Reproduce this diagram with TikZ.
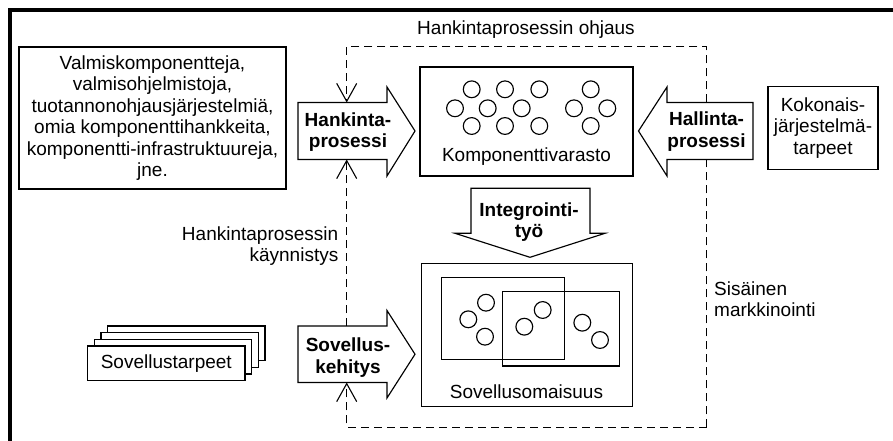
\documentclass[tikz,border=0pt]{standalone}
\usepackage{fontspec}
\setmainfont{Liberation Sans}
\usetikzlibrary{arrows.meta}
\pgfdeclarelayer{back}
\pgfdeclarelayer{lines}
\pgfsetlayers{back,lines,main}
\begin{document}
\begin{tikzpicture}[x=1pt,y=-1pt,
  txt/.style={font=\fontsize{19}{21.5}\selectfont, align=center, inner sep=0pt},
  btxt/.style={txt, font=\fontsize{19}{21.5}\selectfont\bfseries},
  box/.style={draw, line width=1.15pt, fill=white, inner sep=0pt},
  shaft/.style={inner sep=0pt, outer sep=0pt},
  bigarrow/.style={draw, line width=1.15pt, fill=white, line join=miter},
  ctrl/.style={line width=1.1pt, dash pattern=on 8pt off 5pt},
  tipv/.style={-{Straight Barb[length=18pt,width=20pt,line width=1.1pt]}},
  bead/.style={draw, line width=1.15pt},
]
\useasboundingbox (0,0) rectangle (893,441);
\begin{pgfonlayer}{back}
  \fill[white] (0,0) rectangle (893,441);
\end{pgfonlayer}

% heavy frame, only its top and left edges fall inside the page
\draw[line width=4.2pt, line join=miter] (900,10.2) -- (10.2,10.2) -- (10.2,450);

% source box
\node[box, minimum width=267pt, minimum height=142pt, txt, draw] (lahteet) at (152.5,118)
  {Valmiskomponentteja,\\valmisohjelmistoja,\\tuotannonohjausjärjestelmiä,\\omia komponenttihankkeita,\\komponentti-infrastruktuureja,\\jne.};

% system-level needs
\node[box, minimum width=110pt, minimum height=82.6pt, txt, draw] (kokonais) at (823,128)
  {Kokonais-\\järjestelmä-\\tarpeet};

% stack of application needs
\foreach \k in {3,2,1}{
  \draw[line width=1.15pt, fill=white]
    (87.7+6.67*\k, 346-6.67*\k) rectangle (245+6.67*\k, 380.7-6.67*\k);
}
\node[box, minimum width=157.3pt, minimum height=34.7pt, txt, draw] (sovtarpeet) at (166.3,363.3)
  {Sovellustarpeet};

% component store
\node[box, minimum width=213pt, minimum height=109pt] (varasto) at (526.5,121.5) {};
\node[txt] (varastoLbl) at (526.5,157) {Komponenttivarasto};
\foreach \cx/\cy in {471.7/89.3, 455/108.3, 487.7/108.3, 471.7/126,
                     505/89.3, 521.7/108.3, 505/126,
                     539.3/89.3, 539.3/126,
                     590.7/89.3, 574/108.3, 607.3/108.3, 590.7/126}{
  \draw[bead] (\cx,\cy) circle (8.4pt);
}

% application assets
\node[box, minimum width=211pt, minimum height=143pt] (omaisuus) at (526.8,335.3) {};
\draw[line width=1.15pt] (441.7,277.7) rectangle (564.3,359.3);
\draw[line width=1.15pt] (502.7,291.7) rectangle (619.3,366);
\foreach \cx/\cy in {486/302.7, 468.3/319.3, 485/336.7, 524.3/326.7, 542.7/310, 582.3/322.7, 600/340}{
  \draw[bead] (\cx,\cy) circle (8.4pt);
}
\node[txt] (omaisuusLbl) at (526.5,391.7) {Sovellusomaisuus};

% process arrows
\draw[bigarrow] (298,102.5) -- (387,102.5) -- (387,87) -- (415,131) -- (387,176) -- (387,159.5) -- (298,159.5) -- cycle;
\node[shaft, minimum width=89pt, minimum height=57pt] (hankB) at (342.5,131) {};
\node[btxt] (hank) at (348,132) {Hankinta-\\prosessi};

\draw[bigarrow] (298,326) -- (387,326) -- (387,310.5) -- (415,354.25) -- (387,398) -- (387,382.5) -- (298,382.5) -- cycle;
\node[shaft, minimum width=89pt, minimum height=56.5pt] (sovB) at (342.5,354.25) {};
\node[btxt] (sov) at (348,357.5) {Sovellus-\\kehitys};

\draw[bigarrow] (753,102.5) -- (667,102.5) -- (667,87) -- (638.5,131) -- (667,176) -- (667,159.5) -- (753,159.5) -- cycle;
\node[shaft, minimum width=86pt, minimum height=57pt] (hallB) at (710,131) {};
\node[btxt] (hall) at (706.5,131.5) {Hallinta-\\prosessi};

\draw[bigarrow] (471,188.3) -- (590,188.3) -- (590,233.3) -- (605,233.3) -- (530,257.3) -- (455,233.3) -- (471,233.3) -- cycle;
\node[shaft, minimum width=119pt, minimum height=45pt] (intB) at (530.5,210.8) {};
\node[btxt] (int) at (529,222) {Integrointi-\\työ};

% control loop
\coordinate (ctlx) at (346.7,0);
\coordinate (ohjTR) at (706.7,46.7);
\coordinate (ohjBR) at (706.7,427.3);
\begin{pgfonlayer}{lines}
  \draw[ctrl, tipv] (ohjBR) -- (ohjTR) -- (ohjTR -| ctlx) -- (hankB.north -| ctlx);
  \draw[ctrl, tipv] (ohjBR) -- (ohjBR -| ctlx) -- (sovB.south -| ctlx);
  \draw[ctrl, tipv] (sovB.north -| ctlx) -- (hankB.south -| ctlx);
\end{pgfonlayer}

% loop labels
\node[txt] (ohjaus) at (526,30) {Hankintaprosessin ohjaus};
\node[txt, align=right, anchor=east] (kaynnistys) at (338.5,246) {Hankintaprosessin\\käynnistys};
\node[txt, align=left, anchor=west] (markkinointi) at (714,299) {Sisäinen\\markkinointi};
\end{tikzpicture}
\end{document}
